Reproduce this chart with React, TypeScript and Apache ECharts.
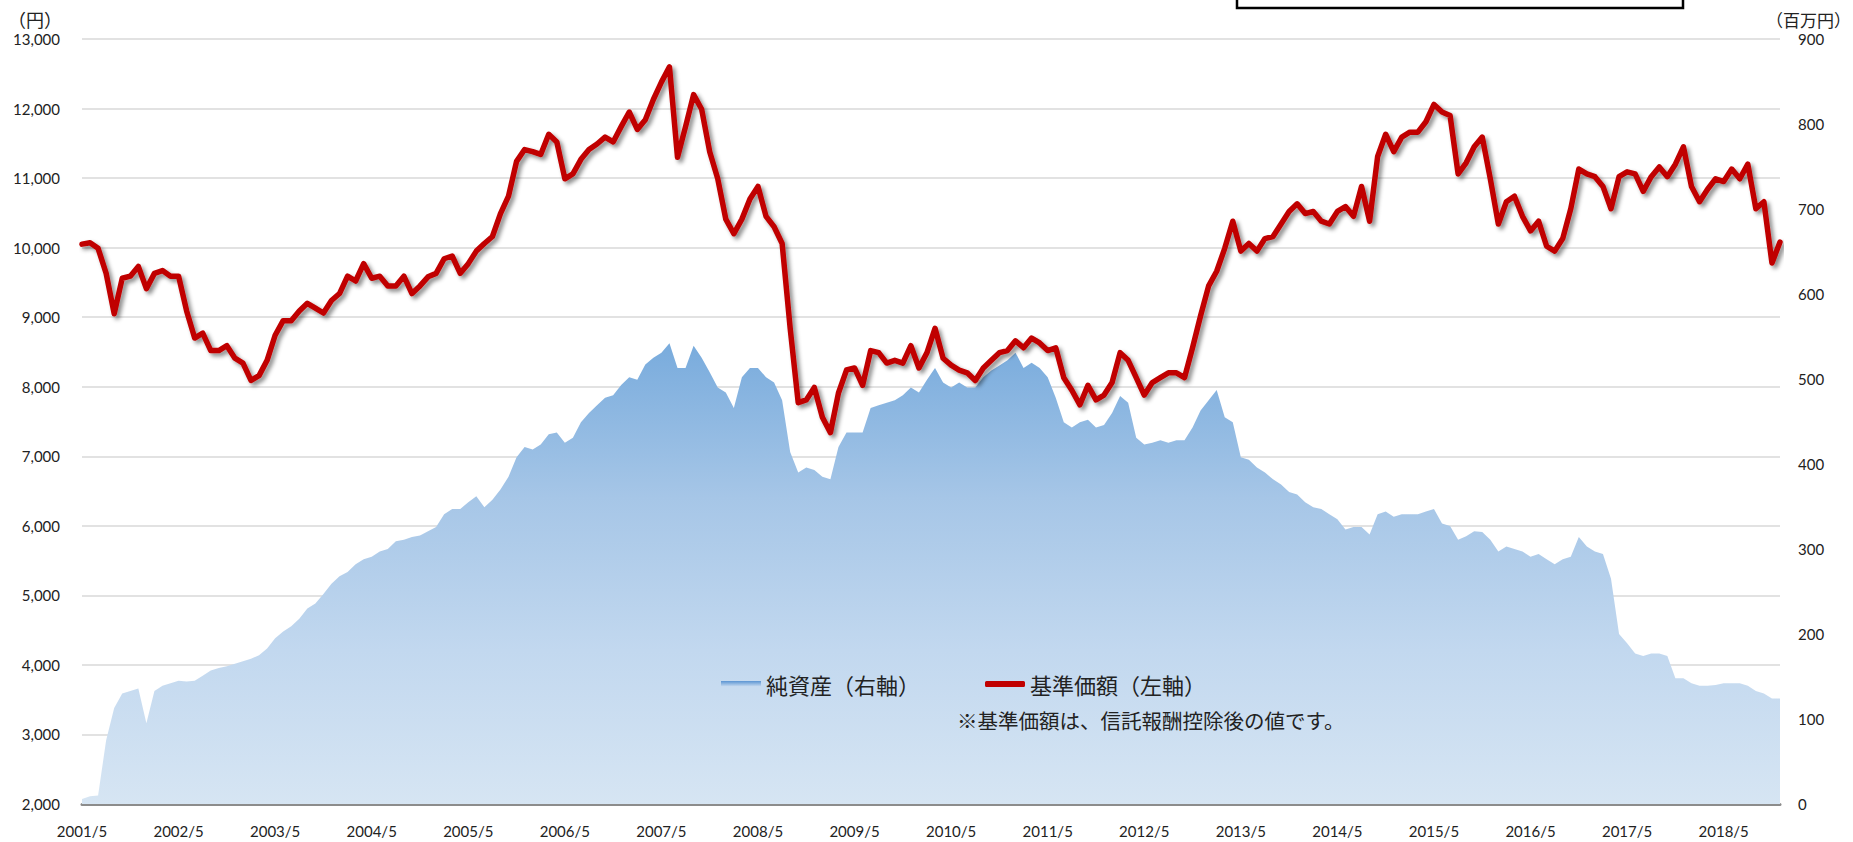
import React, { useEffect, useRef } from "react";
import * as echarts from "echarts";

// Monthly points from 2001/5 to 2018/12
const startYear = 2001;
const startMonth = 5;
const monthCount = 212;

const months: string[] = [];
for (let i = 0; i < monthCount; i++) {
  const t = startMonth - 1 + i;
  months.push(`${startYear + Math.floor(t / 12)}/${(t % 12) + 1}`);
}

// 基準価額 (left axis, 円)
const navValues = [
  10050, 10070, 9990, 9630, 9050, 9560, 9590, 9730, 9410, 9630, 9670, 9590,
  9590, 9090, 8700, 8770, 8520, 8520, 8590, 8410, 8340, 8090, 8160, 8380,
  8740, 8950, 8950, 9090, 9200, 9130, 9060, 9240, 9340, 9590, 9520, 9770,
  9560, 9590, 9450, 9450, 9590, 9340, 9450, 9580, 9630, 9840, 9880, 9630,
  9770, 9950, 10060, 10160, 10490, 10740, 11240, 11410, 11380, 11340, 11630, 11520,
  10990, 11060, 11270, 11410, 11490, 11590, 11520, 11740, 11950, 11700, 11840, 12130,
  12380, 12600, 11300, 11740, 12200, 11990, 11380, 10990, 10410, 10200, 10410, 10700,
  10880, 10450, 10300, 10060, 8840, 7770, 7810, 7990, 7560, 7340, 7910, 8240,
  8270, 8020, 8520, 8490, 8340, 8380, 8340, 8590, 8270, 8490, 8840, 8410,
  8310, 8240, 8200, 8090, 8270, 8380, 8490, 8520, 8660, 8560, 8700, 8630,
  8520, 8560, 8130, 7950, 7740, 8020, 7810, 7880, 8060, 8490, 8380, 8130,
  7880, 8060, 8130, 8200, 8200, 8130, 8560, 9020, 9450, 9660, 9990, 10380,
  9950, 10060, 9950, 10130, 10160, 10340, 10520, 10630, 10490, 10520, 10380, 10340,
  10520, 10590, 10450, 10880, 10380, 11310, 11630, 11380, 11590, 11660, 11660, 11810,
  12060, 11950, 11900, 11060, 11220, 11450, 11590, 10990, 10340, 10660, 10740, 10450,
  10240, 10380, 10020, 9950, 10130, 10560, 11130, 11060, 11020, 10880, 10560, 11020,
  11090, 11060, 10810, 11020, 11160, 11020, 11200, 11450, 10880, 10660, 10840, 10990,
  10950, 11130, 10990, 11200, 10560, 10660, 9780, 10080,
];

// 純資産 (right axis, 百万円)
const netAssetValues = [
  6, 9, 10, 75, 113, 130, 133, 136, 95, 133, 139, 142,
  145, 144, 145, 151, 157, 160, 162, 165, 168, 171, 175, 183,
  195, 203, 209, 218, 230, 236, 247, 259, 268, 273, 282, 288,
  291, 297, 300, 309, 311, 314, 316, 321, 326, 341, 347, 347,
  355, 362, 349, 358, 370, 385, 408, 420, 417, 423, 435, 437,
  425, 431, 449, 460, 469, 478, 481, 493, 502, 499, 517, 525,
  531, 542, 513, 513, 539, 525, 508, 490, 484, 466, 502, 513,
  513, 502, 496, 475, 414, 390, 396, 393, 385, 382, 420, 437,
  437, 437, 466, 469, 472, 475, 481, 490, 484, 499, 513, 496,
  490, 496, 490, 490, 502, 510, 516, 522, 531, 513, 519, 513,
  502, 478, 449, 443, 449, 452, 443, 446, 460, 480, 472, 431,
  423, 425, 428, 425, 428, 428, 443, 463, 475, 487, 455, 449,
  408, 405, 396, 390, 382, 376, 367, 364, 355, 349, 347, 341,
  335, 323, 326, 326, 317, 341, 344, 338, 341, 341, 341, 344,
  347, 330, 327, 311, 315, 321, 320, 311, 297, 303, 300, 297,
  291, 294, 288, 282, 288, 291, 314, 303, 297, 294, 265, 200,
  189, 177, 174, 177, 177, 174, 148, 148, 142, 139, 139, 140,
  142, 142, 142, 139, 133, 130, 124, 124,
];

const navName = "基準価額（左軸）";
const assetName = "純資産（右軸）";
const leftUnit = "（円）";
const rightUnit = "（百万円）";
const noteText = "※基準価額は、信託報酬控除後の値です。";

export default function App() {
  const ref = useRef<HTMLDivElement>(null);

  useEffect(() => {
    if (!ref.current) return;
    const chart = echarts.init(ref.current, null, { renderer: "svg" });
    const font = "Lato, 'Noto Sans CJK JP', sans-serif";
    const jpFont = "'Noto Sans CJK JP', sans-serif";

    const areaGradient = new echarts.graphic.LinearGradient(
      0, 39, 0, 804,
      [
        { offset: 0, color: "#4f8ed2" },
        { offset: 0.35, color: "#6ea5da" },
        { offset: 0.6, color: "#a6c6e7" },
        { offset: 0.8, color: "#c2d8ef" },
        { offset: 1, color: "#d6e5f3" },
      ],
      true
    );
    const legendGradient = new echarts.graphic.LinearGradient(0, 0, 0, 1, [
      { offset: 0, color: "#5b95d3" },
      { offset: 1, color: "#cfe0f2" },
    ]);

    chart.setOption({
      animation: false,
      backgroundColor: "#ffffff",
      grid: { left: 82, right: 73, top: 39, bottom: 38, containLabel: false },
      legend: {
        left: 716,
        top: 668,
        itemWidth: 40,
        itemHeight: 6,
        itemGap: 65,
        textStyle: { fontSize: 22, color: "#222", fontFamily: jpFont },
        data: [
          { name: assetName, icon: "rect", itemStyle: { color: legendGradient } },
          { name: navName, icon: "roundRect", itemStyle: { color: "#c00000" } },
        ],
      },
      xAxis: {
        type: "category",
        data: months,
        boundaryGap: false,
        axisLine: { show: true, lineStyle: { color: "#8c8c8c", width: 3 } },
        axisTick: { show: false },
        axisLabel: {
          interval: (idx: number) => idx % 12 === 0,
          fontSize: 15,
          color: "#222",
          fontFamily: font,
          margin: 19,
        },
        splitLine: { show: false },
      },
      yAxis: [
        {
          type: "value",
          min: 2000,
          max: 13000,
          interval: 1000,
          axisLine: { show: false },
          axisTick: { show: false },
          axisLabel: {
            fontSize: 15,
            color: "#222",
            fontFamily: font,
            margin: 22,
            formatter: (v: number) => v.toLocaleString("en-US"),
          },
          splitLine: { show: true, lineStyle: { color: "#d9d9d9", width: 1.5 } },
        },
        {
          type: "value",
          min: 0,
          max: 900,
          interval: 100,
          position: "right",
          axisLine: { show: false },
          axisTick: { show: false },
          axisLabel: { fontSize: 15, color: "#222", fontFamily: font, margin: 18 },
          splitLine: { show: false },
        },
      ],
      series: [
        {
          name: assetName,
          type: "line",
          yAxisIndex: 1,
          data: netAssetValues,
          symbol: "none",
          lineStyle: { width: 0 },
          itemStyle: { color: "#6ea5da" },
          areaStyle: { color: areaGradient, opacity: 1 },
          z: 1,
        },
        {
          name: navName,
          type: "line",
          yAxisIndex: 0,
          data: navValues,
          symbol: "none",
          itemStyle: { color: "#c00000" },
          lineStyle: {
            color: "#c00000",
            width: 5.5,
            join: "round",
            cap: "round",
            shadowColor: "rgba(0,0,0,0.45)",
            shadowBlur: 4,
            shadowOffsetX: 3,
            shadowOffsetY: 3,
          },
          z: 3,
        },
      ],
      graphic: [
        {
          type: "text",
          left: 8,
          top: 10,
          z: 100,
          style: { text: leftUnit, fill: "#222", font: `18px ${jpFont}` },
        },
        {
          type: "text",
          left: 1766,
          top: 11,
          z: 100,
          style: { text: rightUnit, fill: "#222", font: `17px ${jpFont}` },
        },
        {
          type: "text",
          left: 957,
          top: 710,
          z: 100,
          style: { text: noteText, fill: "#222", font: `20.5px ${jpFont}` },
        },
        {
          type: "rect",
          z: 100,
          shape: { x: 1237, y: -20, width: 446, height: 28 },
          style: { fill: "#ffffff", stroke: "#000000", lineWidth: 2.5 },
        },
      ],
    });
    return () => chart.dispose();
  }, []);

  return (
    <div
      ref={ref}
      style={{ position: "fixed", left: 0, top: 0, width: 1853, height: 842 }}
    />
  );
}
